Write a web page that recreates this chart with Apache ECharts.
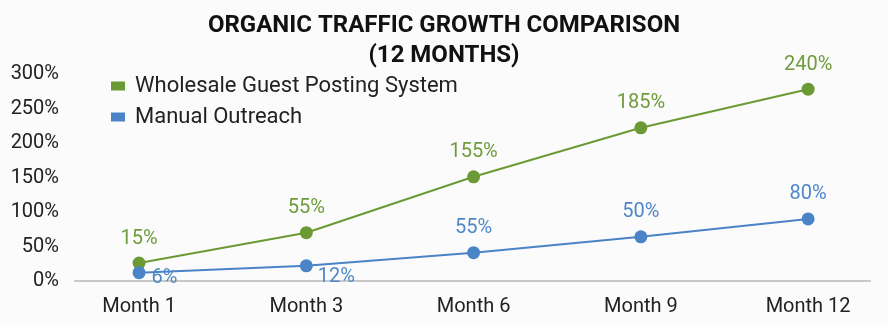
<!DOCTYPE html>
<html>
<head>
<meta charset="utf-8">
<style>
  html, body { margin: 0; padding: 0; background: #fbfbfb; }
  #chart { width: 888px; height: 325px; }
</style>
<script src="https://cdn.jsdelivr.net/npm/echarts@6/dist/echarts.min.js"></script>
</head>
<body>
<div id="chart"></div>
<script>
// categories and values
var months = ['Month 1', 'Month 3', 'Month 6', 'Month 9', 'Month 12'];
var wholesaleValues = [26, 70, 151, 222, 278];
var manualValues = [12, 22, 41, 64, 90];
// the printed labels do not match the plotted heights in the source
var wholesaleLabels = ['15%', '55%', '155%', '185%', '240%'];
var manualLabels = ['6%', '12%', '55%', '50%', '80%'];

var green = '#6b9a35';
var blue = '#4a84c6';
var font = 'Roboto';

var myChart = echarts.init(document.getElementById('chart'));

function toPoints(values, labels, oddLabels) {
  return values.map(function (v, i) {
    var item = { value: [i, v], label: { formatter: labels[i] } };
    if (oddLabels && oddLabels[i]) {
      item.label.position = 'right';
      item.label.distance = 4;
      item.label.offset = oddLabels[i];
    }
    return item;
  });
}

var option = {
  backgroundColor: '#fbfbfb',
  title: {
    text: 'ORGANIC TRAFFIC GROWTH COMPARISON\n(12 MONTHS)',
    left: 'center',
    top: 6,
    textStyle: {
      fontFamily: font,
      fontWeight: 'bold',
      fontSize: 24,
      lineHeight: 30,
      color: '#111'
    }
  },
  legend: {
    orient: 'vertical',
    left: 106,
    top: 70,
    itemGap: 9,
    itemWidth: 14,
    itemHeight: 9,
    icon: 'rect',
    textStyle: { fontFamily: font, fontSize: 22, color: '#222', padding: [0, 0, 0, 5] },
    data: ['Wholesale Guest Posting System', 'Manual Outreach']
  },
  grid: { left: 75, right: 18, top: 74, bottom: 44 },
  xAxis: {
    type: 'value',
    min: -0.383,
    max: 4.37,
    axisLine: { show: true, onZero: false, lineStyle: { color: '#c8c8c8', width: 2 } },
    axisTick: { show: false },
    splitLine: { show: false },
    axisLabel: {
      customValues: [0, 1, 2, 3, 4],
      formatter: function (v) { return months[Math.round(v)]; },
      margin: 16,
      fontFamily: font,
      fontSize: 20,
      color: '#222'
    }
  },
  yAxis: {
    type: 'value',
    min: 0,
    max: 300,
    interval: 50,
    axisLine: { show: false },
    axisTick: { show: false },
    splitLine: { show: false },
    axisLabel: {
      formatter: '{value}%',
      margin: 16,
      fontFamily: font,
      fontSize: 20,
      color: '#222'
    }
  },
  series: [{
    name: 'Wholesale Guest Posting System',
    type: 'line',
    data: toPoints(wholesaleValues, wholesaleLabels),
    symbol: 'circle',
    symbolSize: 13,
    itemStyle: { color: green },
    lineStyle: { color: green, width: 2 },
    label: {
      show: true,
      position: 'top',
      distance: 8,
      fontFamily: font,
      fontSize: 20,
      color: '#6f9c3d'
    },
    z: 3
  }, {
    name: 'Manual Outreach',
    type: 'line',
    data: toPoints(manualValues, manualLabels, { 0: [2, 5], 1: [1, 11] }),
    symbol: 'circle',
    symbolSize: 13,
    itemStyle: { color: blue },
    lineStyle: { color: blue, width: 2 },
    label: {
      show: true,
      position: 'top',
      distance: 8,
      fontFamily: font,
      fontSize: 20,
      color: '#4f88c8'
    },
    z: 4
  }]
};

myChart.setOption(option);
</script>
</body>
</html>
